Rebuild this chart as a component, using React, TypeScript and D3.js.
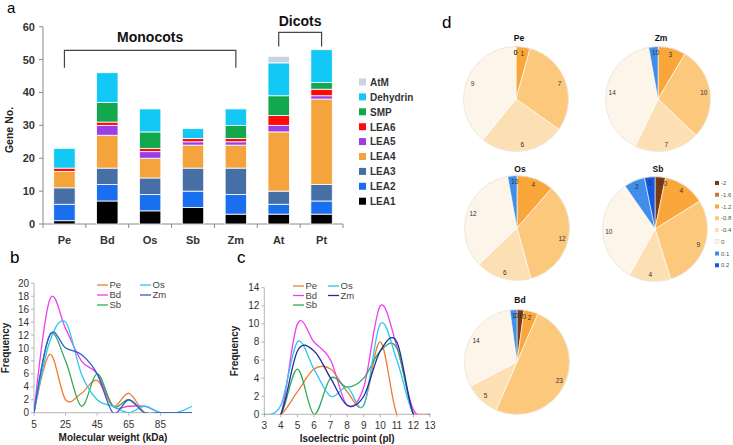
import React from "react";
import * as d3 from "d3";

// ---------- Panel a data ----------
const barCats = ["Pe", "Bd", "Os", "Sb", "Zm", "At", "Pt"];
const barKeys = ["LEA1", "LEA2", "LEA3", "LEA4", "LEA5", "LEA6", "SMP", "Dehydrin", "AtM"];
const lea1 = [1, 7, 4, 5, 3, 3, 3];
const lea2 = [5, 5, 5, 5, 6, 3, 4];
const lea3 = [5, 5, 5, 7, 8, 4, 5];
const lea4 = [5, 10, 6, 7, 7, 18, 26];
const lea5 = [0, 3, 2, 1, 1, 2, 1];
const lea6 = [1, 1, 1, 1, 1, 3, 2];
const smp = [0, 6, 5, 0, 4, 6, 2];
const dehydrin = [6, 9, 7, 3, 5, 10, 10];
const atm = [0, 0, 0, 0, 0, 2, 0];
const barTicks = [0, 10, 20, 30, 40, 50, 60];

// ---------- Panel b data ----------
const mwX = [5, 15, 25, 35, 45, 55, 65, 75, 85, 95, 105];
const mwPe = [0, 9, 2, 3, 5, 1, 3, 0, 0, 0, 0];
const mwBd = [0, 17.5, 13, 8, 6, 1, 1, 1, 0, 0, 0];
const mwSb = [0, 12, 8, 1, 6, 1, 2, 0, 0, 0, 0];
const mwOs = [0, 11, 14, 6, 2, 1, 0, 1, 0, 0, 1];
const mwZm = [0, 12, 10, 9, 6, 0, 2, 0, 0, 0, 0];
const mwTicksX = [5, 25, 45, 65, 85];
const mwTicksY = [0, 2, 4, 6, 8, 10, 12, 14, 16, 18, 20];

// ---------- Panel c data ----------
const piX = [3, 4, 5, 6, 7, 8, 9, 10, 11, 12, 13];
const piPe = [0, 0, 2.5, 5, 5, 2.5, 1, 8, 0, 0, 0];
const piBd = [0, 0, 10, 8, 6, 1, 3, 12, 7.5, 0.5, 0];
const piSb = [0, 0, 5, 0, 4, 3, 4, 7, 7.3, 0, 0];
const piOs = [0, 1, 8, 5, 2, 3, 1, 10, 6, 0, 0];
const piZm = [0, 0, 7, 7, 4, 1, 2, 7, 8, 0, 0];
const piTicksX = [3, 4, 5, 6, 7, 8, 9, 10, 11, 12, 13];
const piTicksY = [0, 2, 4, 6, 8, 10, 12, 14];

// ---------- Panel d data ----------
const pieCats = ["-2", "-1.6", "-1.2", "-0.8", "-0.4", "0", "0.1", "0.2"];
const piePe = [0, 0, 1, 7, 6, 9, 0, 0];
const pieZm = [0, 0, 3, 10, 7, 14, 1, 0];
const pieOs = [0, 0, 4, 12, 6, 12, 1, 0];
const pieSb = [1, 0, 4, 9, 4, 10, 2, 1];
const pieBd = [1, 0, 2, 23, 5, 14, 1, 0];

const FONT = "'Liberation Sans', Arial, sans-serif";

const barColors: Record<string, string> = {
  LEA1: "#000000",
  LEA2: "#1a6ff0",
  LEA3: "#466fa6",
  LEA4: "#f5a33c",
  LEA5: "#9b3ee8",
  LEA6: "#ff0a0a",
  SMP: "#12a84e",
  Dehydrin: "#12c8f5",
  AtM: "#c9d3e2",
};
const pieColors = ["#7b3a12", "#c87a30", "#f9a73a", "#fcc87c", "#fddfb4", "#fdf5ea", "#3e8eea", "#1558e0"];

function BarPanel() {
  const series = [lea1, lea2, lea3, lea4, lea5, lea6, smp, dehydrin, atm];
  const rows = barCats.map((c, i) => {
    const r: any = { cat: c };
    barKeys.forEach((k, j) => (r[k] = series[j][i]));
    return r;
  });
  const stack = d3.stack<any>().keys(barKeys)(rows);
  const x = d3.scaleBand().domain(barCats).range([43, 343]).paddingInner(0.5).paddingOuter(0.25);
  const y = d3.scaleLinear().domain([0, 60]).range([224, 26.7]);
  const step = x.step();
  const legendOrder = [...barKeys].reverse();
  const xc = (c: string) => (x(c) as number) + x.bandwidth() / 2;
  return (
    <g>
      <text x={7} y={13} fontSize={15} fontFamily={FONT}>a</text>
      {/* axes */}
      <line x1={43} x2={43} y1={y(60)} y2={y(0)} stroke="#8a8a8a" />
      {barTicks.map((t) => (
        <g key={t}>
          <line x1={39} x2={43} y1={y(t)} y2={y(t)} stroke="#8a8a8a" />
          <text x={35} y={y(t) + 4} textAnchor="end" fontSize={11} fontWeight="bold" fontFamily={FONT} fill="#333">{t}</text>
        </g>
      ))}
      <line x1={43} x2={343} y1={y(0)} y2={y(0)} stroke="#8a8a8a" />
      {d3.range(barCats.length + 1).map((i) => (
        <line key={i} x1={43 + i * step} x2={43 + i * step} y1={y(0)} y2={y(0) + 4} stroke="#8a8a8a" />
      ))}
      {barCats.map((c) => (
        <text key={c} x={xc(c)} y={244} textAnchor="middle" fontSize={11} fontWeight="bold" fontFamily={FONT} fill="#333">{c}</text>
      ))}
      {/* bars */}
      {stack.map((s) => (
        <g key={s.key} fill={barColors[s.key]}>
          {s.map((d, i) =>
            d[1] - d[0] > 0 ? (
              <rect key={i} x={x(barCats[i])} width={x.bandwidth()} y={y(d[1])} height={y(d[0]) - y(d[1])} stroke="#fff" strokeWidth={0.8} />
            ) : null
          )}
        </g>
      ))}
      <text x={13} y={130} transform="rotate(-90 13 130)" textAnchor="middle" fontSize={10.5} fontWeight="bold" fontFamily={FONT} fill="#222">Gene No.</text>
      {/* brackets */}
      <path d={`M${xc("Pe")},${y(47.5)}V${y(52.8)}H${xc("Zm")}V${y(47.5)}`} fill="none" stroke="#444" strokeWidth={1.2} />
      <text x={(xc("Pe") + xc("Zm")) / 2} y={42} textAnchor="middle" fontSize={14} fontWeight="bold" fontFamily={FONT} fill="#111">Monocots</text>
      <path d={`M${xc("At")},${y(54)}V${y(58.3)}H${xc("Pt")}V${y(54)}`} fill="none" stroke="#444" strokeWidth={1.2} />
      <text x={(xc("At") + xc("Pt")) / 2} y={26} textAnchor="middle" fontSize={14} fontWeight="bold" fontFamily={FONT} fill="#111">Dicots</text>
      {/* legend */}
      {legendOrder.map((k, i) => (
        <g key={k} transform={`translate(359,${82 + i * 14.9})`}>
          <rect x={0} y={-3.5} width={7} height={7} fill={barColors[k]} />
          <text x={11} y={3.8} fontSize={10} fontWeight="bold" fontFamily={FONT} fill="#333">{k}</text>
        </g>
      ))}
    </g>
  );
}

type Ser = { name: string; vals: number[]; color: string };

function LinePanel(props: {
  label: string; labelX: number; xs: number[]; series: Ser[]; xDom: [number, number]; xRange: [number, number];
  yDom: [number, number]; yRange: [number, number]; ticksX: number[]; ticksY: number[]; xTitle: string;
  yTitleX: number; legendX: number; legendY: number; rowH: number; colW: number;
}) {
  const x = d3.scaleLinear().domain(props.xDom).range(props.xRange);
  const y = d3.scaleLinear().domain(props.yDom).range(props.yRange);
  const line = d3.line<number>().x((_, i) => x(props.xs[i])).y((v) => y(v)).curve(d3.curveCatmullRom.alpha(0));
  const legendPos = [[0, 0], [0, 1], [0, 2], [1, 0], [1, 1]];
  const order = ["Pe", "Bd", "Sb", "Os", "Zm"];
  const x0 = props.xRange[0];
  const y0 = props.yRange[0];
  return (
    <g>
      <text x={props.labelX} y={263} fontSize={17} fontFamily={FONT}>{props.label}</text>
      <defs>
        <clipPath id={"clip" + props.label}>
          <rect x={x0} y={props.yRange[1] - 5} width={props.xRange[1] - x0 + 2} height={y0 - props.yRange[1] + 5} />
        </clipPath>
      </defs>
      <line x1={x0} x2={x0} y1={props.yRange[1]} y2={y0} stroke="#b5b5b5" />
      <line x1={x0} x2={props.xRange[1]} y1={y0} y2={y0} stroke="#b5b5b5" />
      {props.ticksY.map((t) => (
        <g key={t}>
          <line x1={x0 - 3} x2={x0} y1={y(t)} y2={y(t)} stroke="#b5b5b5" />
          <text x={x0 - 5} y={y(t) + 3.5} textAnchor="end" fontSize={10} fontFamily={FONT} fill="#333">{t}</text>
        </g>
      ))}
      {props.ticksX.map((t) => (
        <g key={t}>
          <line x1={x(t)} x2={x(t)} y1={y0} y2={y0 + 3} stroke="#b5b5b5" />
          <text x={x(t)} y={y0 + 15} textAnchor="middle" fontSize={10} fontFamily={FONT} fill="#333">{t}</text>
        </g>
      ))}
      <g clipPath={`url(#clip${props.label})`}>
        {props.series.map((s) => (
          <path key={s.name} d={line(s.vals) as string} fill="none" stroke={s.color} strokeWidth={1.3} />
        ))}
      </g>
      <text x={(x0 + props.xRange[1]) / 2} y={y0 + 28} textAnchor="middle" fontSize={10} fontWeight="bold" fontFamily={FONT} fill="#222">{props.xTitle}</text>
      <text x={props.yTitleX} y={(y0 + props.yRange[1]) / 2} transform={`rotate(-90 ${props.yTitleX} ${(y0 + props.yRange[1]) / 2})`} textAnchor="middle" fontSize={10} fontWeight="bold" fontFamily={FONT} fill="#222">Frequency</text>
      {order.map((n, i) => {
        const s = props.series.find((q) => q.name === n)!;
        const [c, r] = legendPos[i];
        const lx = props.legendX + c * props.colW;
        const ly = props.legendY + r * props.rowH;
        return (
          <g key={n}>
            <line x1={lx} x2={lx + 11} y1={ly} y2={ly} stroke={s.color} strokeWidth={1.3} />
            <text x={lx + 12.5} y={ly + 3.3} fontSize={9.5} fontFamily={FONT} fill="#444">{n}</text>
          </g>
        );
      })}
    </g>
  );
}

function Pie(props: { title: string; vals: number[]; cx: number; cy: number; ty: number }) {
  const r = 52.5;
  const arcs = d3.pie<number>().sort(null).value((v) => v)(props.vals);
  const arc = d3.arc<d3.PieArcDatum<number>>().innerRadius(0).outerRadius(r);
  return (
    <g>
      <text x={props.cx + 3} y={props.ty} textAnchor="middle" fontSize={8.5} fontWeight="bold" fontFamily={FONT} fill="#111">{props.title}</text>
      <g transform={`translate(${props.cx},${props.cy})`}>
        {arcs.map((a, i) =>
          a.value > 0 ? <path key={i} d={arc(a) as string} fill={pieColors[i]} stroke="#fff" strokeWidth={0.6} /> : null
        )}
        <circle r={r} fill="none" stroke="#e6ddd0" strokeWidth={0.7} />
        {arcs.map((a, i) => {
          // zero-valued slices before the first non-zero slice carry no visible label
          if (a.value === 0 && a.startAngle === 0) return null;
          const m = (a.startAngle + a.endAngle) / 2;
          const lr = r * 0.88;
          const dx = a.value === 0 ? (m < Math.PI ? 1 : -0.5) : 0;
          return (
            <text key={i} x={Math.sin(m) * lr + dx} y={-Math.cos(m) * lr + 2.3} textAnchor="middle" fontSize={6.5} fontFamily={FONT} fill="#333">{a.value}</text>
          );
        })}
      </g>
    </g>
  );
}

function PiePanel() {
  return (
    <g>
      <text x={442} y={28} fontSize={17} fontFamily={FONT}>d</text>
      <Pie title="Pe" vals={piePe} cx={516} cy={99} ty={41} />
      <Pie title="Zm" vals={pieZm} cx={658} cy={99} ty={41} />
      <Pie title="Os" vals={pieOs} cx={517} cy={228} ty={172} />
      <Pie title="Sb" vals={pieSb} cx={655} cy={229} ty={172} />
      <Pie title="Bd" vals={pieBd} cx={517} cy={362} ty={303} />
      {pieCats.map((c, i) => (
        <g key={c} transform={`translate(715,${183 + i * 11.75})`}>
          <rect x={0} y={-2} width={4} height={4} fill={pieColors[i]} stroke={i === 5 ? "#ccc" : "none"} strokeWidth={0.4} />
          <text x={6} y={2.2} fontSize={6} fontFamily={FONT} fill="#555">{c}</text>
        </g>
      ))}
    </g>
  );
}

export default function App() {
  return (
    <svg width={733} height={445} style={{ position: "absolute", left: 0, top: 0, background: "#fff" }}>
      <rect width={733} height={445} fill="#fff" />
      <BarPanel />
      <LinePanel
        label="b" labelX={10} xs={mwX}
        series={[
          { name: "Pe", vals: mwPe, color: "#f07c30" },
          { name: "Bd", vals: mwBd, color: "#f03cf0" },
          { name: "Sb", vals: mwSb, color: "#2faa55" },
          { name: "Os", vals: mwOs, color: "#2ec6ee" },
          { name: "Zm", vals: mwZm, color: "#2f5fd0" },
        ]}
        xDom={[5, 105]} xRange={[34, 192]} yDom={[0, 20]} yRange={[412.7, 283.3]}
        ticksX={mwTicksX} ticksY={mwTicksY} xTitle="Molecular weight (kDa)" yTitleX={9}
        legendX={97} legendY={285} rowH={10} colW={43}
      />
      <LinePanel
        label="c" labelX={237} xs={piX}
        series={[
          { name: "Pe", vals: piPe, color: "#f07c30" },
          { name: "Bd", vals: piBd, color: "#f03cf0" },
          { name: "Sb", vals: piSb, color: "#2faa55" },
          { name: "Os", vals: piOs, color: "#2ec6ee" },
          { name: "Zm", vals: piZm, color: "#1c2c9c" },
        ]}
        xDom={[3, 13]} xRange={[264.3, 430]} yDom={[0, 14]} yRange={[414.3, 287.7]}
        ticksX={piTicksX} ticksY={piTicksY} xTitle="Isoelectric point (pI)" yTitleX={238}
        legendX={293} legendY={286} rowH={9.5} colW={35}
      />
      <PiePanel />
    </svg>
  );
}
